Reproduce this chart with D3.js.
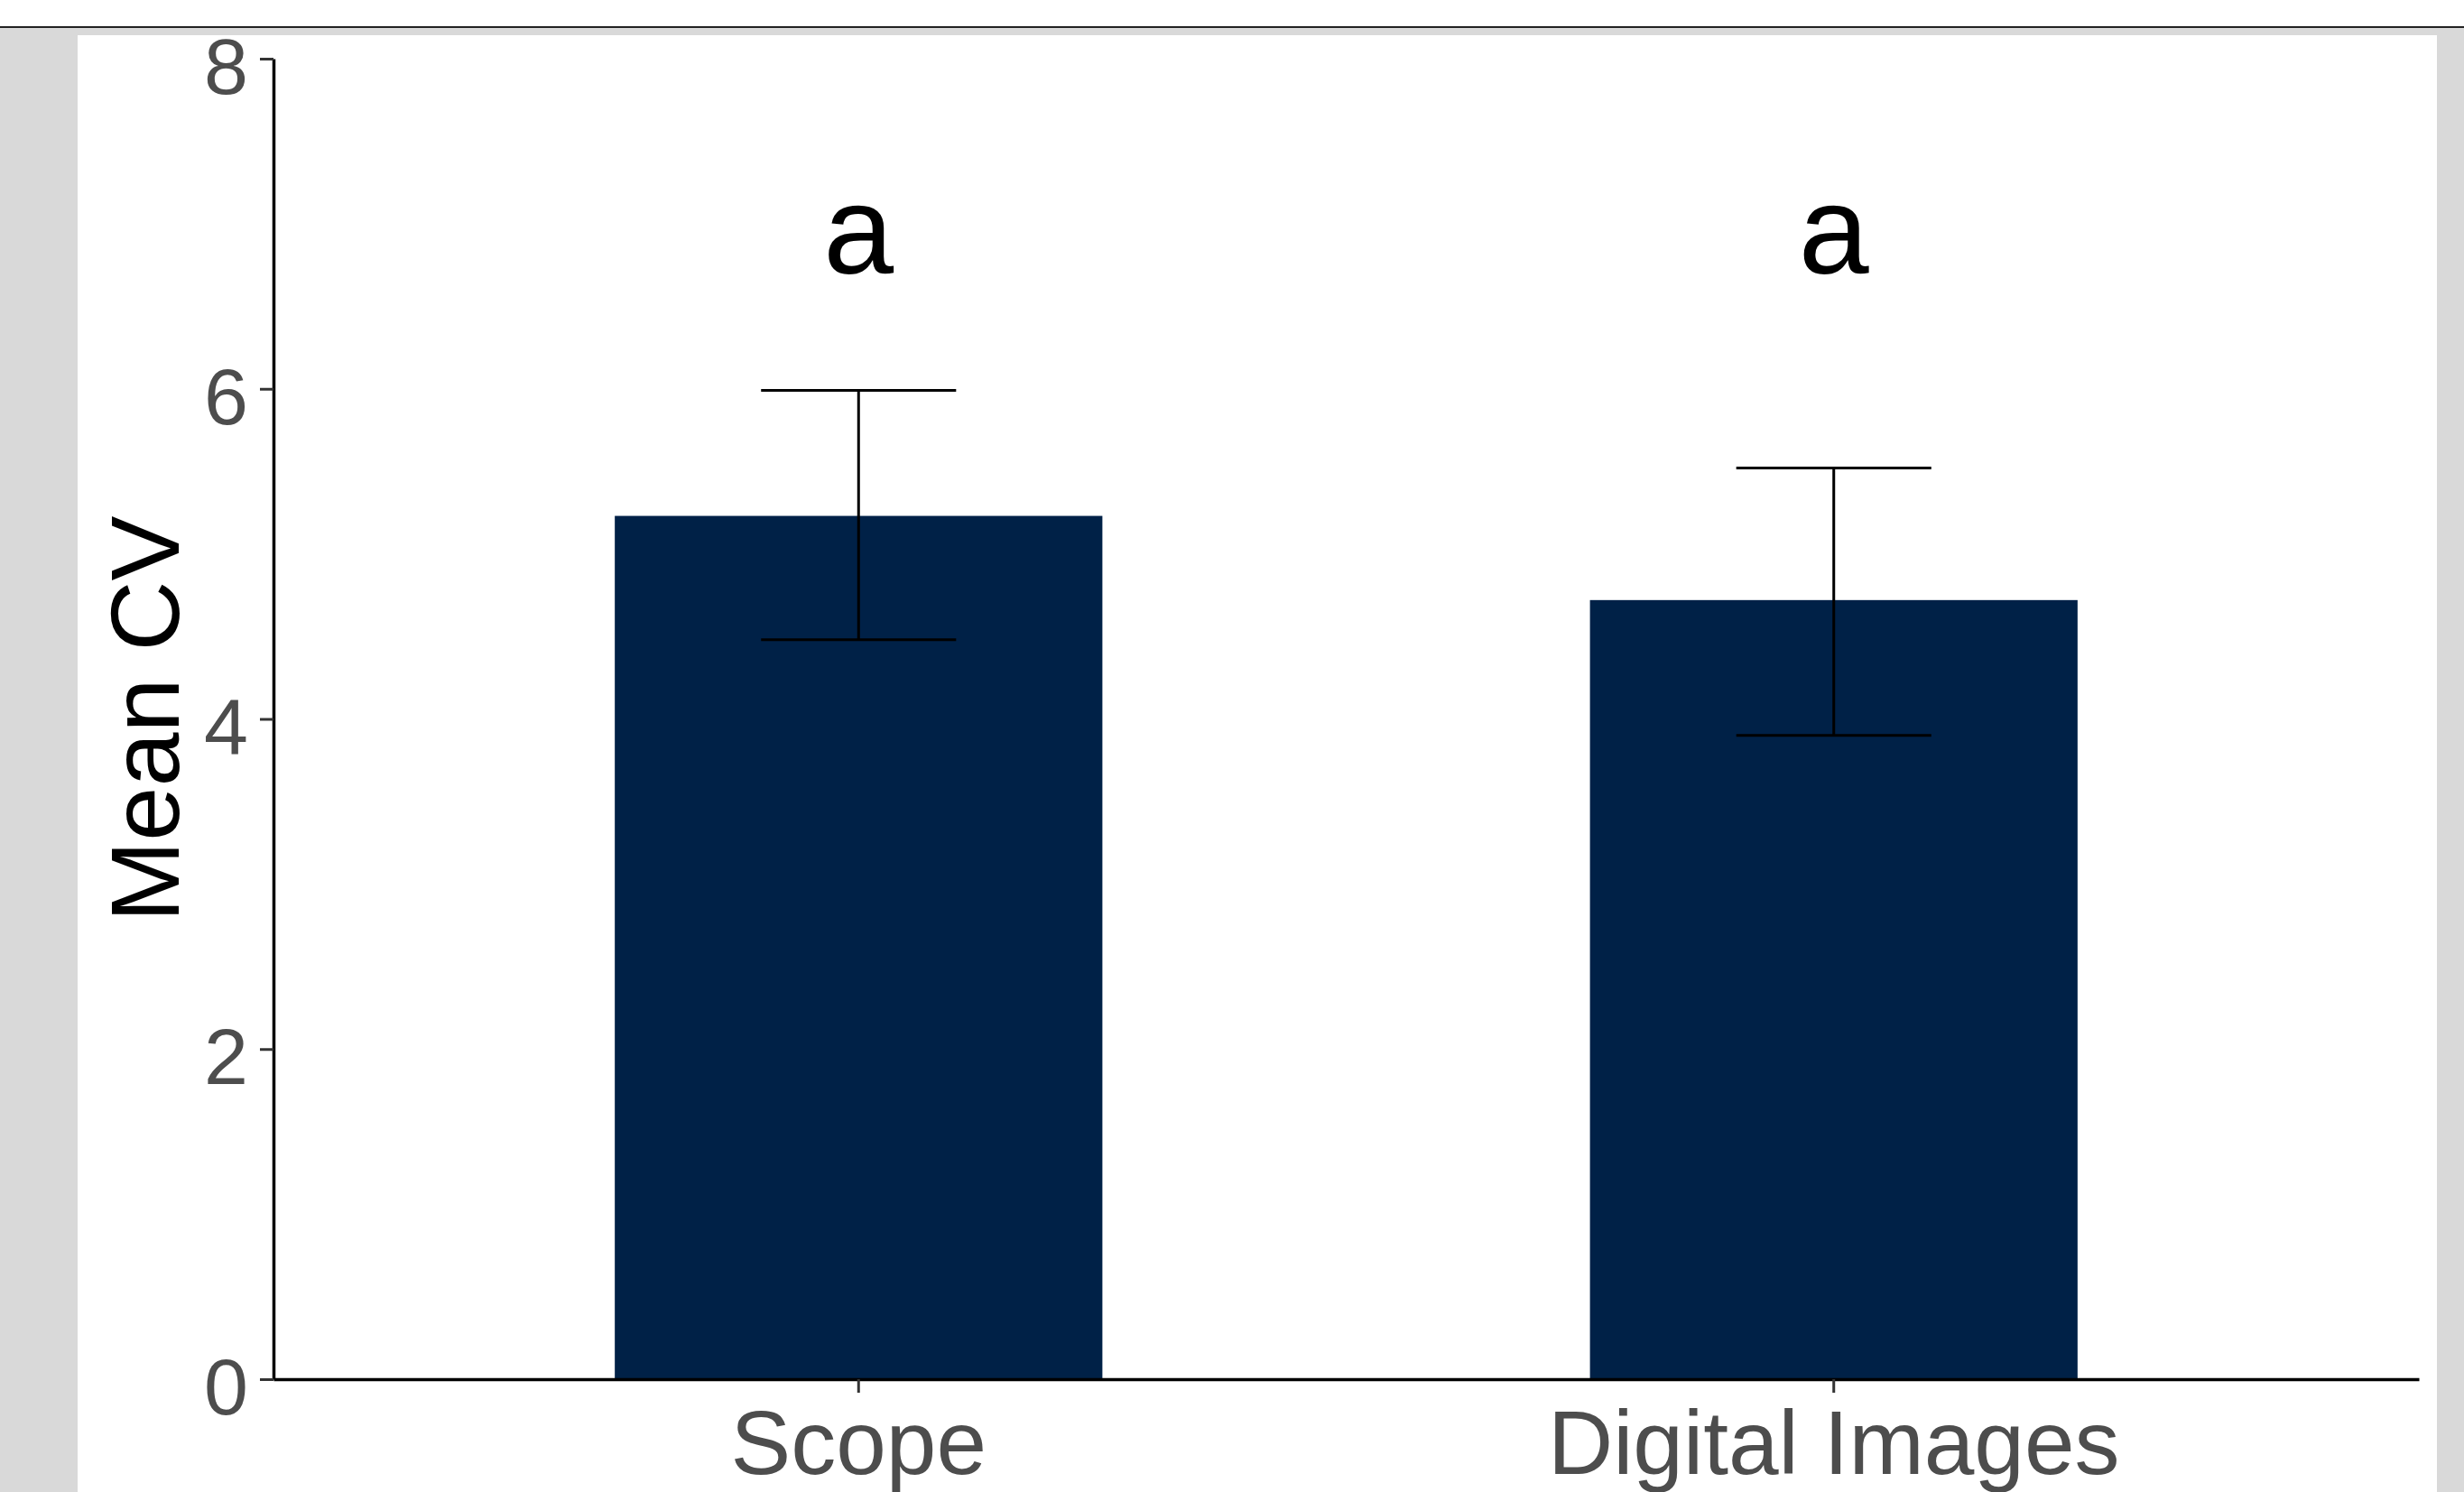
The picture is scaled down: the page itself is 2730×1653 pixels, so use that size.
<!DOCTYPE html>
<html>
<head>
<meta charset="utf-8">
<script src="https://cdn.jsdelivr.net/npm/d3@7"></script>
<style>
  body { margin: 0; background: #fff; overflow: hidden; }
  text { font-family: 'Liberation Sans', Arial, sans-serif; }
</style>
</head>
<body>
<div id="chart"></div>
<script>
// data
let categories = ['Scope', 'Digital Images']
let means = [5.23, 4.72]
let lower = [4.48, 3.9]
let upper = [5.99, 5.52]
let letters = ['a', 'a']
let letterY = 6.7
let yTicks = [0, 2, 4, 6, 8]

let W = 2730
let H = 1653

let svg = d3
  .select('#chart')
  .append('svg')
  .attr('width', W)
  .attr('height', H)

// page frame: rule + grey background + white panel
svg.append('rect').attr('x', 0).attr('y', 0).attr('width', W).attr('height', H).attr('fill', '#fff')
svg.append('rect').attr('x', 0).attr('y', 31).attr('width', W).attr('height', H - 31).attr('fill', '#d9d9d9')
svg.append('rect').attr('x', 86).attr('y', 39).attr('width', 2700 - 86).attr('height', H - 39).attr('fill', '#fff')
svg.append('line')
  .attr('x1', 0).attr('x2', W).attr('y1', 30).attr('y2', 30)
  .attr('stroke', '#222').attr('stroke-width', 2)

let margin = { top: 65, left: 303, right: 50, bottom: 125 }
let width = 2680 - margin.left
let height = 1528 - margin.top

let g = svg.append('g')
  .attr('transform', 'translate(' + margin.left + ',' + margin.top + ')')

let x = d3.scaleBand()
  .domain(categories)
  .range([0, width])
  .paddingInner(0.5)
  .paddingOuter(0.35)

let y = d3.scaleLinear().domain([0, 8]).range([height, 0])

// bars
g.selectAll('.bar')
  .data(categories)
  .enter()
  .append('rect')
  .attr('class', 'bar')
  .attr('x', d => x(d))
  .attr('width', x.bandwidth())
  .attr('y', (d, i) => y(means[i]))
  .attr('height', (d, i) => y(0) - y(means[i]))
  .attr('fill', '#002147')

// error bars
let ew = x.bandwidth() * 0.4
let err = g.selectAll('.err')
  .data(categories)
  .enter()
  .append('g')
  .attr('class', 'err')
  .attr('stroke', '#000')
  .attr('stroke-width', 3)

err.append('line')
  .attr('x1', d => x(d) + x.bandwidth() / 2)
  .attr('x2', d => x(d) + x.bandwidth() / 2)
  .attr('y1', (d, i) => y(upper[i]))
  .attr('y2', (d, i) => y(lower[i]))
err.append('line')
  .attr('x1', d => x(d) + x.bandwidth() / 2 - ew / 2)
  .attr('x2', d => x(d) + x.bandwidth() / 2 + ew / 2)
  .attr('y1', (d, i) => y(upper[i]))
  .attr('y2', (d, i) => y(upper[i]))
err.append('line')
  .attr('x1', d => x(d) + x.bandwidth() / 2 - ew / 2)
  .attr('x2', d => x(d) + x.bandwidth() / 2 + ew / 2)
  .attr('y1', (d, i) => y(lower[i]))
  .attr('y2', (d, i) => y(lower[i]))

// significance letters
g.selectAll('.letter')
  .data(categories)
  .enter()
  .append('text')
  .attr('class', 'letter')
  .attr('x', d => x(d) + x.bandwidth() / 2)
  .attr('y', y(letterY))
  .attr('text-anchor', 'middle')
  .attr('font-size', 140)
  .attr('fill', '#000')
  .text((d, i) => letters[i])

// axes
let yAxis = g.append('g')
  .call(d3.axisLeft(y).tickValues(yTicks).tickSize(15).tickSizeOuter(0).tickPadding(13))
yAxis.select('.domain').attr('stroke', '#000').attr('stroke-width', 3.5)
yAxis.selectAll('.tick line').attr('stroke', '#333').attr('stroke-width', 3)
yAxis.selectAll('.tick text')
  .attr('font-size', 88)
  .attr('fill', '#4d4d4d')
  .attr('dy', '0.44em')
  .style('font-family', "'Liberation Sans', Arial, sans-serif")

let xAxis = g.append('g')
  .attr('transform', 'translate(0,' + height + ')')
  .call(d3.axisBottom(x).tickSize(15).tickSizeOuter(0).tickPadding(19))
xAxis.select('.domain').attr('stroke', '#000').attr('stroke-width', 3.5)
xAxis.selectAll('.tick line').attr('stroke', '#333').attr('stroke-width', 3)
xAxis.selectAll('.tick text')
  .attr('font-size', 100)
  .attr('fill', '#4d4d4d')
  .style('font-family', "'Liberation Sans', Arial, sans-serif")

// y title
svg.append('text')
  .attr('transform', 'translate(198,' + (margin.top + height / 2) + ') rotate(-90)')
  .attr('text-anchor', 'middle')
  .attr('font-size', 108)
  .attr('fill', '#000')
  .text('Mean CV')
</script>
</body>
</html>
